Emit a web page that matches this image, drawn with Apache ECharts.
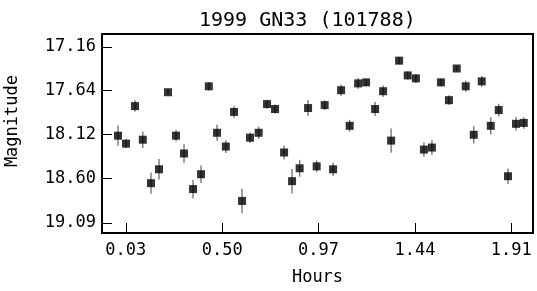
<!DOCTYPE html>
<html>
<head>
<meta charset="utf-8">
<script src="https://cdn.jsdelivr.net/npm/echarts@6/dist/echarts.min.js"></script>
<style>
  html, body { margin: 0; padding: 0; background: #fff; }
  #main { width: 537px; height: 291px; }
</style>
</head>
<body>
<div id="main"></div>
<script>
// light curve data
const hours = [
  -0.008, 0.031, 0.075, 0.113, 0.153, 0.192, 0.236, 0.275, 0.314, 0.358,
  0.397, 0.435, 0.475, 0.518, 0.558, 0.597, 0.636, 0.678, 0.719, 0.758,
  0.802, 0.841, 0.878, 0.919, 0.961, 1.000, 1.041, 1.080, 1.122, 1.163,
  1.202, 1.246, 1.285, 1.324, 1.363, 1.405, 1.445, 1.484, 1.523, 1.567,
  1.606, 1.644, 1.688, 1.727, 1.766, 1.810, 1.849, 1.894, 1.933, 1.971
]
const magnitude = [
  18.134, 18.221, 17.810, 18.178, 18.654, 18.502, 17.658, 18.134, 18.329, 18.719,
  18.556, 17.593, 18.102, 18.253, 17.874, 18.849, 18.156, 18.102, 17.788, 17.842,
  18.318, 18.632, 18.491, 17.831, 18.470, 17.799, 18.502, 17.636, 18.026, 17.561,
  17.550, 17.842, 17.647, 18.188, 17.312, 17.474, 17.506, 18.286, 18.264, 17.550,
  17.745, 17.398, 17.593, 18.124, 17.539, 18.026, 17.853, 18.578, 18.004, 17.994
]
const magError = [
  0.111, 0.050, 0.063, 0.090, 0.117, 0.112, 0.030, 0.063, 0.103, 0.103,
  0.095, 0.045, 0.087, 0.070, 0.065, 0.135, 0.058, 0.067, 0.047, 0.050,
  0.076, 0.134, 0.092, 0.087, 0.065, 0.052, 0.074, 0.063, 0.065, 0.060,
  0.040, 0.076, 0.063, 0.134, 0.040, 0.045, 0.047, 0.080, 0.081, 0.043,
  0.054, 0.030, 0.060, 0.094, 0.060, 0.094, 0.070, 0.085, 0.076, 0.063
]
const xTicks = [0.03, 0.50, 0.97, 1.44, 1.91]
const yTicks = [17.16, 17.64, 18.12, 18.60, 19.09]

const font = 'DejaVu Sans Mono'

const points = hours.map((h, i) => [h, magnitude[i]])
const bars = hours.map((h, i) => [h, magnitude[i] - magError[i], magnitude[i] + magError[i]])

const myChart = echarts.init(document.getElementById('main'))
myChart.setOption({
  animation: false,
  title: {
    text: '1999 GN33 (101788)',
    left: 194,
    top: 6,
    textStyle: { fontFamily: font, fontSize: 20, fontWeight: 'normal', color: '#000' }
  },
  grid: {
    left: 102, right: 4, top: 34, bottom: 56,
    show: true, borderColor: '#000', borderWidth: 2
  },
  xAxis: {
    type: 'value',
    min: -0.086,
    max: 2.016,
    name: 'Hours',
    nameLocation: 'middle',
    nameGap: 36,
    nameTextStyle: { fontFamily: font, fontSize: 17, color: '#000' },
    axisLine: { show: false, onZero: false },
    splitLine: { show: false },
    axisTick: { inside: true, length: 10, lineStyle: { color: '#000', width: 1 }, customValues: xTicks },
    axisLabel: {
      customValues: xTicks,
      formatter: v => v.toFixed(2),
      fontFamily: font, fontSize: 17, color: '#000', margin: 9
    }
  },
  yAxis: {
    type: 'value',
    inverse: true,
    min: 17.02,
    max: 19.2,
    axisLine: { show: false, onZero: false },
    splitLine: { show: false },
    axisTick: { inside: true, length: 10, lineStyle: { color: '#000', width: 1 }, customValues: yTicks },
    axisLabel: {
      customValues: yTicks,
      formatter: v => v.toFixed(2),
      fontFamily: font, fontSize: 17, color: '#000', margin: 6
    }
  },
  graphic: [{
    type: 'text',
    left: 4,
    top: 75,
    rotation: Math.PI / 2,
    style: { text: 'Magnitude', fontFamily: font, fontSize: 17, fill: '#000' }
  }],
  series: [
    {
      type: 'custom',
      data: bars,
      z: 1,
      renderItem: (params, api) => {
        const top = api.coord([api.value(0), api.value(1)])
        const bottom = api.coord([api.value(0), api.value(2)])
        return {
          type: 'line',
          shape: { x1: top[0], y1: top[1], x2: bottom[0], y2: bottom[1] },
          style: { stroke: '#808080', lineWidth: 1.5 }
        }
      }
    },
    {
      type: 'scatter',
      data: points,
      symbol: 'rect',
      symbolSize: 8,
      z: 2,
      itemStyle: { color: '#000' }
    }
  ]
})
</script>
</body>
</html>
